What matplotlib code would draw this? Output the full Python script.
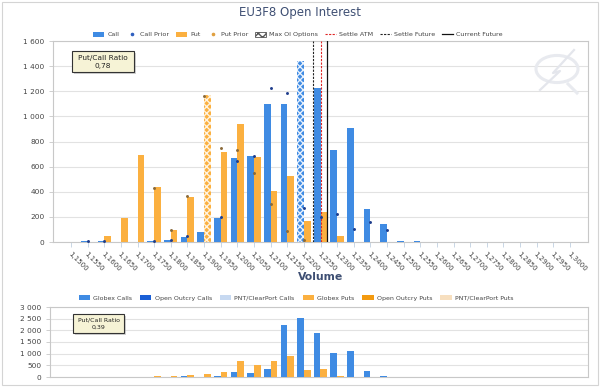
import matplotlib
matplotlib.use("Agg")
import matplotlib.pyplot as plt
import numpy as np
from matplotlib.patches import Rectangle, Patch, Circle
from matplotlib.lines import Line2D

# ---------------- data ----------------
strike_labels = ["1,1500", "1,1550", "1,1600", "1,1650", "1,1700", "1,1750", "1,1800",
                 "1,1850", "1,1900", "1,1950", "1,2000", "1,2050", "1,2100", "1,2150",
                 "1,2200", "1,2250", "1,2300", "1,2350", "1,2400", "1,2450", "1,2500",
                 "1,2550", "1,2600", "1,2650", "1,2700", "1,2750", "1,2800", "1,2850",
                 "1,2900", "1,2950", "1,3000"]
strikes = [1.1500 + 0.005 * i for i in range(len(strike_labels))]

call_oi = [0, 4, 4, 0, 0, 5, 12, 42, 77, 188, 670, 681, 1102, 1102, 1444, 1224,
           734, 906, 262, 143, 5, 5, 0, 0, 0, 0, 0, 0, 0, 0, 0]
put_oi = [0, 0, 50, 188, 692, 440, 93, 355, 1172, 718, 938, 673, 408, 527, 164, 236,
          48, 0, 0, 0, 0, 0, 0, 0, 0, 0, 0, 0, 0, 0, 0]
nan = np.nan
call_prior = [nan, 6, 4, nan, nan, 5, 12, 45, nan, 196, 641, 684, 1227, 1185, 273, 199,
              225, 106, 162, 98, nan, nan, nan, nan, nan, nan, nan, nan, nan, nan, nan]
put_prior = [nan, nan, nan, nan, nan, 427, 95, 368, 1160, 745, 731, 549, 302, 90, 16, nan,
             nan, nan, nan, nan, nan, nan, nan, nan, nan, nan, nan, nan, nan, nan, nan]

settle_atm = 1.2250
settle_future = 1.22285
current_future = 1.2270

globex_calls = [0, 0, 0, 0, 0, 0, 15, 25, 0, 30, 216, 187, 360, 2220, 2523, 1875,
                1038, 1110, 260, 58, 0, 0, 0, 0, 0, 0, 0, 0, 0, 0, 0]
globex_puts = [0, 0, 0, 0, 20, 50, 40, 100, 130, 200, 678, 505, 678, 880, 303, 332,
               58, 0, 10, 0, 0, 0, 0, 0, 0, 0, 0, 0, 0, 0, 0]
oo_calls = [0] * 31
pnt_calls = [0] * 31
oo_puts = [0] * 31
pnt_puts = [0] * 31

oi_ratio = "0,78"
vol_ratio = "0,39"

# ---------------- style ----------------
CALL = "#3f8be3"
PUT = "#fbb040"
CALL_PRIOR = "#1f3d8c"
PUT_PRIOR = "#8a6a3a"
OO_CALL = "#1a5fd6"
PNT_CALL = "#c7d9f1"
OO_PUT = "#f39a10"
PNT_PUT = "#f7dfbf"
GRID = "#e2e2e2"
BORDER = "#c8c8c8"
TXT = "#444444"
TITLE = "#3e4f73"

plt.rcParams["font.family"] = ["DejaVu Sans"]
plt.rcParams["hatch.linewidth"] = 1.0

W, H = 600, 387
fig = plt.figure(figsize=(6, 3.87), dpi=100)
fig.patch.set_facecolor("white")


def rect(l, t, r, b):
    return [l / W, 1 - b / H, (r - l) / W, (b - t) / H]


def fx(px):
    return px / W


def fy(py):
    return 1 - py / H


# outer container frame
fig.patches.append(Rectangle((fx(1.5), fy(384.5)), fx(596), 383 / H, transform=fig.transFigure,
                             fill=False, edgecolor="#d4d4d4", linewidth=0.8))

# ---------------- top chart ----------------
ax1 = fig.add_axes(rect(53, 41, 588, 242))
x = np.arange(len(strike_labels))
bw = 0.4
calls = np.array(call_oi, dtype=float)
puts = np.array(put_oi, dtype=float)
ic = int(np.argmax(calls))
ip = int(np.argmax(puts))

cmask = np.arange(len(calls)) != ic
pmask = np.arange(len(puts)) != ip
ax1.bar(x[cmask] - bw / 2, calls[cmask], bw, color=CALL, linewidth=0, zorder=3)
ax1.bar(x[pmask] + bw / 2, puts[pmask], bw, color=PUT, linewidth=0, zorder=3)
ax1.bar([x[ic] - bw / 2], [calls[ic]], bw, facecolor=CALL, edgecolor="#e8f1fc", hatch="xxxxx",
        linewidth=0, zorder=3)
ax1.bar([x[ip] + bw / 2], [puts[ip]], bw, facecolor=PUT, edgecolor="#fff3de", hatch="xxxxx",
        linewidth=0, zorder=3)

ax1.scatter(x, call_prior, s=4.5, color=CALL_PRIOR, zorder=5, linewidths=0)
ax1.scatter(x, put_prior, s=4.5, color=PUT_PRIOR, zorder=5, linewidths=0)


def to_idx(v):
    return (v - strikes[0]) / (strikes[1] - strikes[0])


ax1.axvline(to_idx(settle_future), color="#222222", linestyle=(0, (2, 1.2)), linewidth=0.8, zorder=4)
ax1.axvline(to_idx(settle_atm), color="#e02525", linestyle=(0, (2, 1.2)), linewidth=0.8, zorder=4)
ax1.axvline(to_idx(current_future), color="#111111", linewidth=0.9, zorder=4)

ax1.set_xlim(-1.08, len(x) - 1 + 1.08)
ax1.set_ylim(0, 1600)
ax1.set_yticks(range(0, 1601, 200))
ax1.set_yticklabels([f"{v:,}".replace(",", " ") for v in range(0, 1601, 200)],
                    fontsize=5.3, color=TXT)
ax1.set_xticks(x)
ax1.set_xticklabels(strike_labels, rotation=-45, ha="left", va="top",
                    rotation_mode="anchor", fontsize=5, color=TXT)
ax1.tick_params(axis="x", length=3.5, width=0.6, color="#c0d0e0", pad=3)
ax1.tick_params(axis="y", length=3, width=0.6, color=BORDER, pad=3)
ax1.grid(axis="y", color=GRID, linewidth=0.8, zorder=0)
ax1.set_axisbelow(True)
for s in ax1.spines.values():
    s.set_color(BORDER)
    s.set_linewidth(0.8)

# watermark
wm = Circle((fx(557), fy(69)), 21 / W, transform=fig.transFigure, fill=False,
            edgecolor="#e8eaef", linewidth=2.2, zorder=1)
fig.patches.append(wm)
fig.lines.append(Line2D([fx(574), fx(553), fx(560), fx(540)], [fy(50), fy(73), fy(71), fy(90)],
                        transform=fig.transFigure, color="#e4e6ec", linewidth=1.6))
fig.lines.append(Line2D([fx(568), fx(577)], [fy(84), fy(93)], transform=fig.transFigure,
                        color="#e8eaef", linewidth=2.2))


def ratio_box(l, t, r, b, ratio, fs):
    fig.patches.append(Rectangle((fx(l + 1.5), fy(b + 1.5)), fx(r - l), (b - t) / H,
                                 transform=fig.transFigure, facecolor="#9a9a9a",
                                 edgecolor="none", alpha=0.45, zorder=10))
    fig.patches.append(Rectangle((fx(l), fy(b)), fx(r - l), (b - t) / H,
                                 transform=fig.transFigure, facecolor="#f6f3d6",
                                 edgecolor="#333333", linewidth=0.8, zorder=11))
    cx = (l + r) / 2
    h = b - t
    fig.text(fx(cx), fy(t + h * 0.32), "Put/Call Ratio", ha="center", va="center",
             fontsize=fs, color="#222222", zorder=12)
    fig.text(fx(cx), fy(t + h * 0.72), ratio, ha="center", va="center",
             fontsize=fs, color="#222222", zorder=12)


ratio_box(72, 51, 134, 72, oi_ratio, 5.3)

fig.text(0.5, fy(12.5), "EU3F8 Open Interest", ha="center", va="center",
         fontsize=8.5, color=TITLE)
fig.text(fx(320.5), fy(276.5), "Volume", ha="center", va="center",
         fontsize=7.8, fontweight="bold", color=TITLE)

h_top = [Patch(facecolor=CALL, edgecolor="none"),
         Line2D([], [], marker="o", markersize=1.6, linestyle="none", color="#3060c0"),
         Patch(facecolor=PUT, edgecolor="none"),
         Line2D([], [], marker="o", markersize=1.6, linestyle="none", color="#e0a040"),
         Patch(facecolor="white", edgecolor="#555555", hatch="xxxx", linewidth=0.6),
         Line2D([], [], color="#e02525", linestyle=(0, (2, 1.2)), linewidth=0.8),
         Line2D([], [], color="#222222", linestyle=(0, (2, 1.2)), linewidth=0.8),
         Line2D([], [], color="#111111", linewidth=0.9)]
l_top = ["Call", "Call Prior", "Put", "Put Prior", "Max OI Options", "Settle ATM",
         "Settle Future", "Current Future"]
fig.legend(h_top, l_top, loc="center", bbox_to_anchor=(fx(298), fy(34.5)), ncol=8,
           fontsize=4.6, frameon=False, handlelength=1.7, handleheight=0.9,
           handletextpad=0.5, columnspacing=1.05, labelcolor=TXT)

# ---------------- bottom chart ----------------
ax2 = fig.add_axes(rect(50, 307, 588, 377))
ax2.bar(x - bw / 2, globex_calls, bw, color=CALL, linewidth=0, zorder=3)
ax2.bar(x - bw / 2, oo_calls, bw, bottom=globex_calls, color=OO_CALL, linewidth=0, zorder=3)
ax2.bar(x + bw / 2, globex_puts, bw, color=PUT, linewidth=0, zorder=3)
ax2.bar(x + bw / 2, oo_puts, bw, bottom=globex_puts, color=OO_PUT, linewidth=0, zorder=3)
ax2.set_xlim(-1.26, len(x) - 1 + 1.08)
ax2.set_ylim(0, 3000)
ax2.set_yticks(range(0, 3001, 500))
ax2.set_yticklabels([f"{v:,}".replace(",", " ") for v in range(0, 3001, 500)],
                    fontsize=5.3, color=TXT)
ax2.set_xticks([])
ax2.tick_params(axis="y", length=3, width=0.6, color=BORDER, pad=3)
ax2.grid(axis="y", color=GRID, linewidth=0.8, zorder=0)
ax2.set_axisbelow(True)
for s in ax2.spines.values():
    s.set_color(BORDER)
    s.set_linewidth(0.8)

ratio_box(73, 314, 124, 333, vol_ratio, 4.5)

h_bot = [Patch(facecolor=CALL), Patch(facecolor=OO_CALL), Patch(facecolor=PNT_CALL),
         Patch(facecolor=PUT), Patch(facecolor=OO_PUT), Patch(facecolor=PNT_PUT)]
l_bot = ["Globex Calls", "Open Outcry Calls", "PNT/ClearPort Calls", "Globex Puts",
         "Open Outcry Puts", "PNT/ClearPort Puts"]
fig.legend(h_bot, l_bot, loc="center", bbox_to_anchor=(fx(296), fy(298)), ncol=6,
           fontsize=4.5, frameon=False, handlelength=1.8, handleheight=0.9,
           handletextpad=0.5, columnspacing=1.3, labelcolor=TXT)

fig.savefig("out.png", dpi=100, facecolor="white")
